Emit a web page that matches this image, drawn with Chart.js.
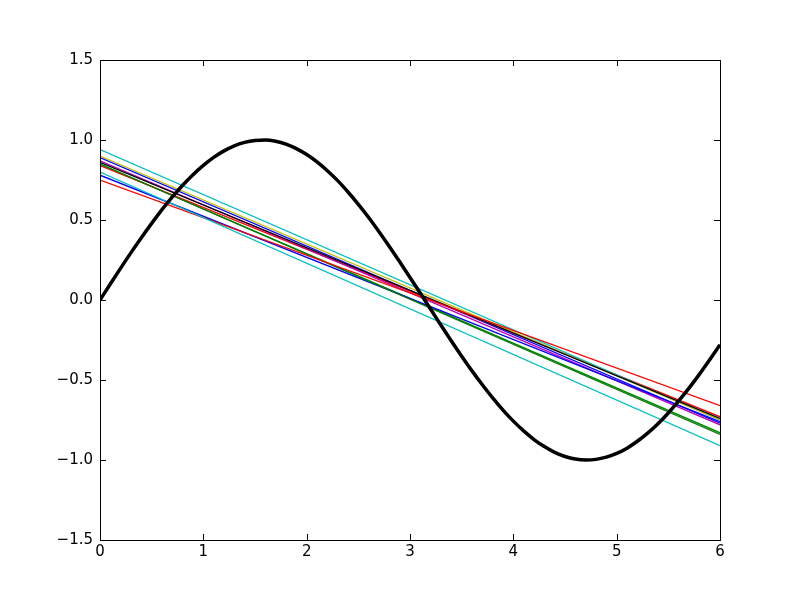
<!DOCTYPE html>
<html>
<head>
<meta charset="utf-8">
<script src="https://cdn.jsdelivr.net/npm/chart.js@4"></script>
<style>
  html, body { margin: 0; padding: 0; background: #fff; }
  #wrap { width: 800px; height: 600px; }
</style>
</head>
<body>
<div id="wrap"><canvas id="chart" width="800" height="600"></canvas></div>
<script>
// sine curve
const sineX = [0.0, 0.1, 0.2, 0.3, 0.4, 0.5, 0.6, 0.7, 0.8, 0.9,
               1.0, 1.1, 1.2, 1.3, 1.4, 1.5, 1.6, 1.7, 1.8, 1.9,
               2.0, 2.1, 2.2, 2.3, 2.4, 2.5, 2.6, 2.7, 2.8, 2.9,
               3.0, 3.1, 3.2, 3.3, 3.4, 3.5, 3.6, 3.7, 3.8, 3.9,
               4.0, 4.1, 4.2, 4.3, 4.4, 4.5, 4.6, 4.7, 4.8, 4.9,
               5.0, 5.1, 5.2, 5.3, 5.4, 5.5, 5.6, 5.7, 5.8, 5.9, 6.0];
const sineY = [0.000, 0.100, 0.199, 0.296, 0.389, 0.479, 0.565, 0.644, 0.717, 0.783,
               0.841, 0.891, 0.932, 0.964, 0.985, 0.997, 1.000, 0.992, 0.974, 0.946,
               0.909, 0.863, 0.808, 0.746, 0.675, 0.598, 0.516, 0.427, 0.335, 0.239,
               0.141, 0.042, -0.058, -0.158, -0.256, -0.351, -0.443, -0.530, -0.612, -0.688,
               -0.757, -0.818, -0.872, -0.916, -0.952, -0.978, -0.994, -1.000, -0.996, -0.982,
               -0.959, -0.926, -0.883, -0.832, -0.773, -0.706, -0.631, -0.551, -0.465, -0.374, -0.279];

// fitted lines: value at x=0 and at x=6
const fitX = [0, 6];
const fitStart = [0.89, 0.85, 0.84, 0.94, 0.87, 0.90, 0.86, 0.78, 0.85, 0.75, 0.80];
const fitEnd   = [-0.77, -0.83, -0.73, -0.75, -0.78, -0.75, -0.74, -0.76, -0.84, -0.66, -0.91];
const fitColors = ['#0000ff', '#008000', '#ff0000', '#00bfbf', '#bf00bf', '#bfbf00', '#000000',
                   '#0000ff', '#008000', '#ff0000', '#00bfbf'];

const xTicks = [0, 1, 2, 3, 4, 5, 6];
const yTicks = [-1.5, -1.0, -0.5, 0.0, 0.5, 1.0, 1.5];

const fmtY = v => (v < 0 ? '\u2212' : '') + Math.abs(v).toFixed(1);

const datasets = [{
    data: sineX.map((x, i) => ({ x: x, y: sineY[i] })),
    borderColor: '#000000',
    borderWidth: 3.5,
    pointRadius: 0,
    cubicInterpolationMode: 'monotone',
    fill: false,
    order: 0
}];
fitStart.forEach((s, i) => {
    datasets.push({
        data: [{ x: fitX[0], y: s }, { x: fitX[1], y: fitEnd[i] }],
        borderColor: fitColors[i],
        borderWidth: 1.3,
        pointRadius: 0,
        fill: false,
        order: 20 - i
    });
});

// box and inward ticks, matplotlib classic look
const frame = {
    id: 'frame',
    afterDatasetsDraw(chart) {
        const ctx = chart.ctx;
        const a = chart.chartArea;
        const xs = chart.scales.x, ys = chart.scales.y;
        const len = 6;
        ctx.save();
        ctx.strokeStyle = '#000';
        ctx.lineWidth = 1;
        ctx.beginPath();
        xTicks.forEach(t => {
            const px = Math.round(xs.getPixelForValue(t)) + 0.5;
            ctx.moveTo(px, a.bottom); ctx.lineTo(px, a.bottom - len);
            ctx.moveTo(px, a.top); ctx.lineTo(px, a.top + len);
        });
        yTicks.forEach(t => {
            const py = Math.round(ys.getPixelForValue(t)) + 0.5;
            ctx.moveTo(a.left, py); ctx.lineTo(a.left + len, py);
            ctx.moveTo(a.right, py); ctx.lineTo(a.right - len, py);
        });
        ctx.stroke();
        ctx.strokeRect(Math.round(a.left) + 0.5, Math.round(a.top) + 0.5,
                       Math.round(a.right - a.left), Math.round(a.bottom - a.top));
        ctx.restore();
    }
};

new Chart(document.getElementById('chart'), {
    type: 'line',
    data: { datasets: datasets },
    options: {
        responsive: false,
        animation: false,
        layout: { padding: { top: 60, right: 80, left: 0, bottom: 0 } },
        plugins: { legend: { display: false }, tooltip: { enabled: false } },
        scales: {
            x: {
                type: 'linear',
                min: 0, max: 6,
                afterFit: s => { s.height = 60; },
                afterBuildTicks: s => { s.ticks = xTicks.map(v => ({ value: v })); },
                grid: { display: false, drawTicks: false, tickLength: 0 },
                border: { display: false },
                ticks: {
                    color: '#000',
                    padding: 3,
                    font: { family: 'DejaVu Sans', size: 15 },
                    callback: v => String(v)
                }
            },
            y: {
                type: 'linear',
                min: -1.5, max: 1.5,
                afterFit: s => { s.width = 100; },
                afterBuildTicks: s => { s.ticks = yTicks.map(v => ({ value: v })); },
                grid: { display: false, drawTicks: false, tickLength: 0 },
                border: { display: false },
                ticks: {
                    color: '#000',
                    padding: 7,
                    font: { family: 'DejaVu Sans', size: 15 },
                    callback: v => fmtY(v)
                }
            }
        }
    },
    plugins: [frame]
});
</script>
</body>
</html>
